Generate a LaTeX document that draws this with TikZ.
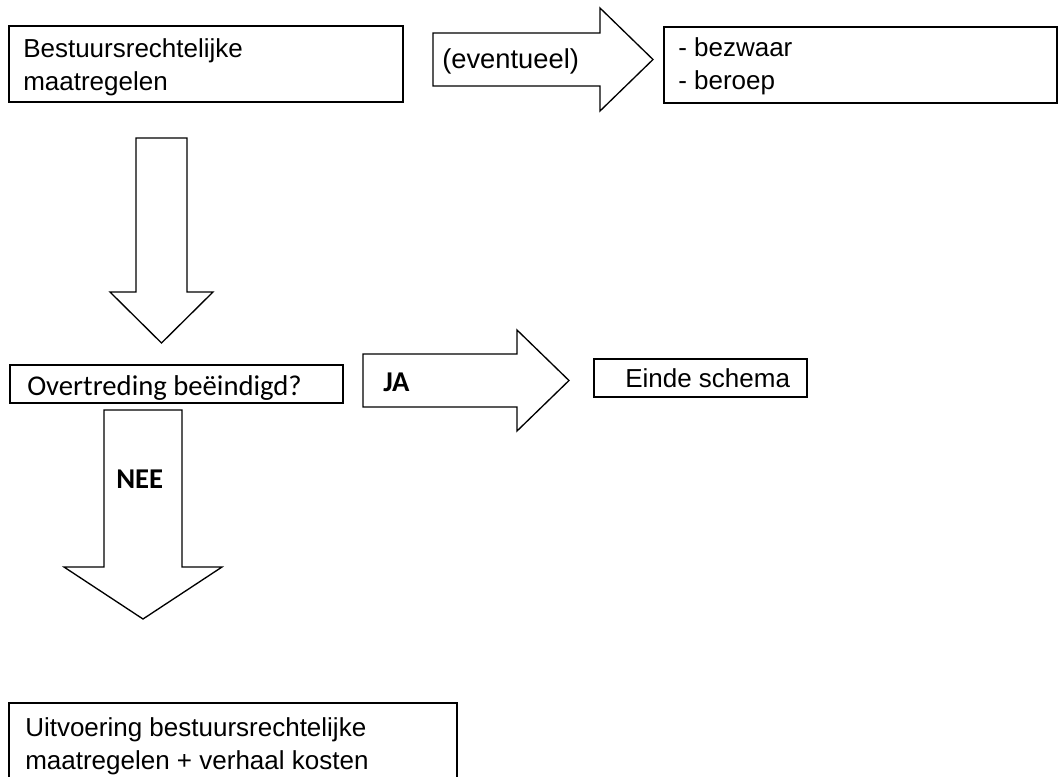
\documentclass[tikz,border=0pt]{standalone}
\usepackage{fontspec}
\setmainfont{Liberation Sans}
\newfontfamily\carlitofont{Carlito}

\tikzset{
  boxline/.style={line width=1.5pt},
  arrowline/.style={line width=1pt, line join=miter},
  txt/.style={inner sep=0pt, align=left, font=\fontsize{19.5}{24.75}\selectfont},
  ctxt/.style={inner sep=0pt, font=\carlitofont\fontsize{21.5}{24}\selectfont},
  cbold/.style={inner sep=0pt, font=\carlitofont\bfseries\fontsize{21.5}{24}\selectfont},
}

\begin{document}
\begin{tikzpicture}[x=0.75pt,y=0.75pt,yscale=-1,xscale=1]
\useasboundingbox (0,0) rectangle (1058,776);
\clip (0,0) rectangle (1058,776);

%Shape: Rectangle [maatregelen]
\draw [boxline] (9,26) rectangle (403,102);
%Shape: Right Arrow [eventueel]
\draw [arrowline] (433,33) -- (600,33) -- (600,8) -- (653,59.5) -- (600,111) -- (600,86) -- (433,86) -- cycle;
%Shape: Rectangle [rechtsmiddelen]
\draw [boxline] (664,27) rectangle (1057,103);
%Shape: Down Arrow
\draw [arrowline] (136,138) -- (187,138) -- (187,292) -- (213,292) -- (161.5,343) -- (110,292) -- (136,292) -- cycle;
%Shape: Rectangle [overtreding]
\draw [boxline] (10,365) rectangle (343,403);
%Shape: Right Arrow [ja]
\draw [arrowline] (363,354) -- (517,354) -- (517,330) -- (569,380.5) -- (517,431) -- (517,407) -- (363,407) -- cycle;
%Shape: Rectangle [einde]
\draw [boxline] (594,359) rectangle (807,397);
%Shape: Down Arrow [nee]
\draw [arrowline] (104,410) -- (182,410) -- (182,567) -- (222,567) -- (143,619) -- (64,567) -- (104,567) -- cycle;
%Shape: Rectangle [uitvoering]
\draw [boxline] (9,703) rectangle (457,800);

% Text Node
\node (maatregelen) [txt, anchor=base west] at (23,90) {Bestuursrechtelijke\\maatregelen};
% Text Node
\node (eventueel) [txt, anchor=base west, font=\fontsize{20.5}{24.75}\selectfont] at (442,68) {(eventueel)};
% Text Node
\node (rechtsmiddelen) [txt, anchor=base west] at (678,89) {- bezwaar\\- beroep};
% Text Node
\node (overtreding) [ctxt, anchor=base west] at (27,395) {Overtreding beëindigd?};
% Text Node
\node (ja) [cbold, anchor=base west] at (383,391) {JA};
% Text Node
\node (einde) [txt, anchor=base west] at (625,387) {Einde schema};
% Text Node
\node (nee) [cbold, anchor=base west] at (116,488) {NEE};
% Text Node
\node (uitvoering) [txt, anchor=base west] at (25,769) {Uitvoering bestuursrechtelijke\\maatregelen + verhaal kosten};
\end{tikzpicture}
\end{document}
